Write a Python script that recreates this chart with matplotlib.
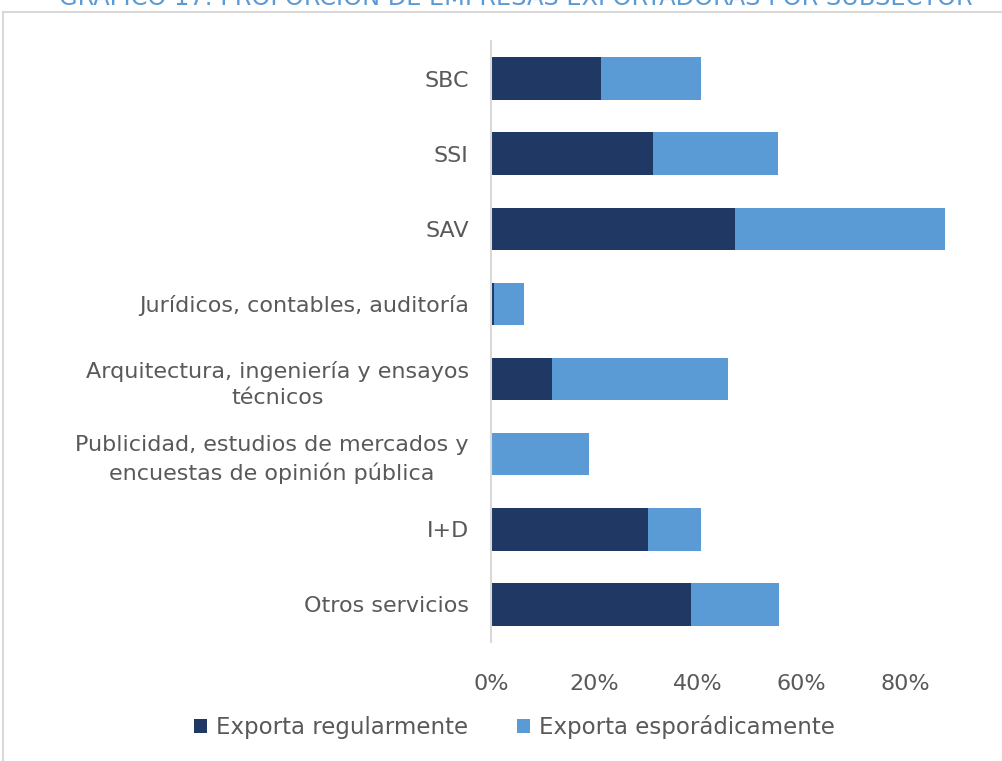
import numpy as np
import matplotlib.pyplot as plt
from matplotlib.lines import Line2D
from matplotlib.ticker import FuncFormatter

# Data (in %)
categories = ["SBC", "SSI", "SAV", "Jurídicos, contables, auditoría",
              "Arquitectura, ingeniería y ensayos\ntécnicos",
              "Publicidad, estudios de mercados y\nencuestas de opinión pública",
              "I+D", "Otros servicios"]
regular = [21.3, 31.3, 47.1, 0.6, 11.8, 0.0, 30.3, 38.7]
sporadic = [19.3, 24.1, 40.7, 5.8, 33.9, 18.9, 10.2, 17.0]
x_ticks = [0, 20, 40, 60, 80]

DARK = "#203864"
LIGHT = "#5B9BD5"
GREY = "#595959"

fig = plt.figure(figsize=(10.03, 7.61), dpi=100)
ax = fig.add_axes([0.4895, 0.1564, 0.4645, 0.7897])

y = np.arange(len(categories))
ax.barh(y, regular, height=0.567, color=DARK, label="Exporta regularmente")
ax.barh(y, sporadic, left=regular, height=0.567, color=LIGHT,
        label="Exporta esporádicamente")

ax.set_xlim(0, 90)
ax.set_ylim(len(categories) - 0.5, -0.5)
ax.set_yticks(y)
ax.set_yticklabels(categories, fontsize=16, color=GREY, linespacing=1.4)
for lbl in ax.get_yticklabels():
    lbl.set_multialignment("center")
ax.set_xticks(x_ticks)
ax.xaxis.set_major_formatter(FuncFormatter(lambda v, p: f"{v:.0f}%"))
ax.tick_params(axis="x", labelsize=16, colors=GREY, length=0, pad=23)
ax.tick_params(axis="y", length=0, pad=16)

for s in ["top", "right", "bottom"]:
    ax.spines[s].set_visible(False)
ax.spines["left"].set_color("#D9D9D9")
ax.spines["left"].set_linewidth(1.5)

ax.legend(loc="center", bbox_to_anchor=(0.513, 0.045),
          bbox_transform=fig.transFigure, ncol=2, frameon=False,
          fontsize=16.5, labelcolor=GREY, handlelength=0.57, handleheight=0.57,
          handletextpad=0.4, columnspacing=2.1)

# clipped title (as in the reference) and chart border
fig.text(0.514, 1 - 5 / 761, "GRÁFICO 17: PROPORCIÓN DE EMPRESAS EXPORTADORAS POR SUBSECTOR",
         ha="center", va="baseline", fontsize=17.3, color=LIGHT)
fig.add_artist(Line2D([3.5 / 1003, 3.5 / 1003], [0, 1 - 11.5 / 761],
                      color="#D9D9D9", lw=1.5, transform=fig.transFigure))
fig.add_artist(Line2D([3.5 / 1003, 1], [1 - 11.5 / 761, 1 - 11.5 / 761],
                      color="#D9D9D9", lw=1.5, transform=fig.transFigure))

fig.savefig("out.png", dpi=100)
